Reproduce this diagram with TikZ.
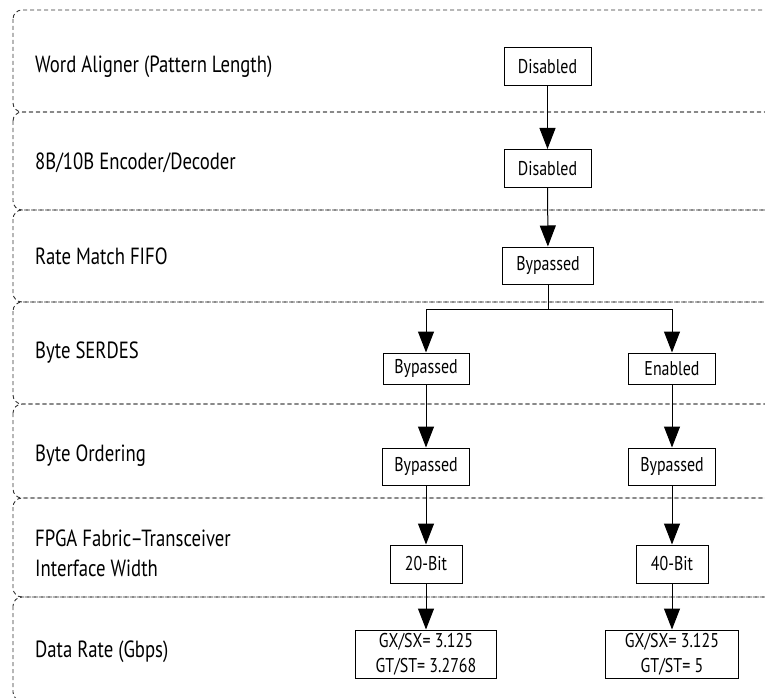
\documentclass[tikz,border=0pt]{standalone}
\usepackage{fontspec}
\setmainfont{PT Sans}[FakeStretch=0.8]
\usetikzlibrary{arrows.meta, positioning}

\begin{document}
\begin{tikzpicture}[x=1bp, y=-1bp,
  lane/.style={draw=black!80, dash pattern=on 4bp off 3bp, line width=0.9bp, rounded corners=9bp},
  lanelabel/.style={anchor=west, font=\fontsize{23.5}{30}\selectfont, align=left, inner sep=0pt},
  stagebox/.style={draw, line width=1bp, font=\fontsize{20}{25}\selectfont, inner sep=0pt, minimum height=38bp, align=center},
  flow/.style={-{Triangle[length=21bp, width=16bp]}, line width=1bp},
]
\useasboundingbox (0,0) rectangle (765,698);
\clip (0,0) rectangle (765,698);
% Lanes (open on the right)
\foreach \ytop/\ybot in {10/112, 112/210, 210/302, 302/404, 404/498, 498/597, 597/701}
  \draw[lane] (13,\ytop) rectangle (800,\ybot);
% Lane labels
\node[lanelabel] (lblWord) at (35,67) {Word Aligner (Pattern Length)};
\node[lanelabel] (lblCode) at (35,163) {8B/10B Encoder/Decoder};
\node[lanelabel] (lblRate) at (35,256) {Rate Match FIFO};
\node[lanelabel] (lblSerdes) at (35,353) {Byte SERDES};
\node[lanelabel] (lblOrder) at (35,456) {Byte Ordering};
\node[lanelabel] (lblWidth) at (35,553) {FPGA Fabric--Transceiver\\Interface Width};
\node[lanelabel] (lblData) at (35,652) {Data Rate (Gbps)};
% Settings
\node[stagebox, minimum width=87bp] (wa) at (547.5,66.5) {Disabled};
\node[stagebox, minimum width=87bp] (enc) at (547.5,168.5) {Disabled};
\node[stagebox, minimum width=91bp, minimum height=37bp] (rmf) at (548,265.5) {Bypassed};
\node[stagebox, minimum width=86bp, minimum height=31bp] (serL) at (426,368.5) {Bypassed};
\node[stagebox, minimum width=87bp, minimum height=31bp] (serR) at (672,368.5) {Enabled};
\node[stagebox, minimum width=87bp, minimum height=37bp] (ordL) at (426,466.5) {Bypassed};
\node[stagebox, minimum width=87bp, minimum height=37bp] (ordR) at (672,466.5) {Bypassed};
\node[stagebox, minimum width=72bp] (widL) at (426,564) {20-Bit};
\node[stagebox, minimum width=72bp] (widR) at (672,564) {40-Bit};
\node[stagebox, minimum width=141bp, minimum height=48bp] (drL) at (426,654) {GX/SX= 3.125\\GT/ST= 3.2768};
\node[stagebox, minimum width=133bp, minimum height=48bp] (drR) at (672,654) {GX/SX= 3.125\\GT/ST= 5};
% Flow
\draw[flow] (wa) -- (enc);
\draw[flow] (enc) -- (rmf);
\draw[line width=1bp] (rmf.south) -- ++(0,25) coordinate (split);
\draw[flow] (split) -| (serL.north);
\draw[flow] (split) -| (serR.north);
\draw[flow] (serL) -- (ordL);
\draw[flow] (serR) -- (ordR);
\draw[flow] (ordL) -- (widL);
\draw[flow] (ordR) -- (widR);
\draw[flow] (widL) -- (drL);
\draw[flow] (widR) -- (drR);
\end{tikzpicture}
\end{document}
